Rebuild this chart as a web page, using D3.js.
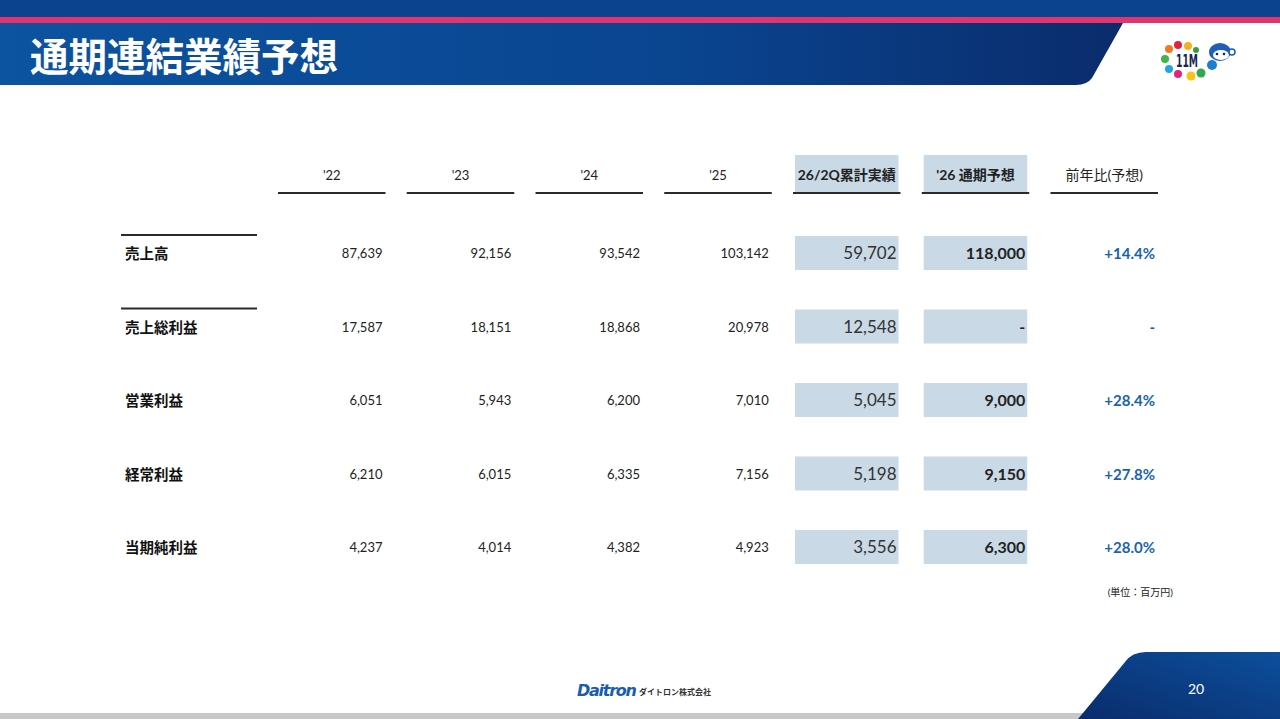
<!DOCTYPE html>
<html lang="ja">
<head>
<meta charset="utf-8">
<script src="https://cdn.jsdelivr.net/npm/d3@7"></script>
<style>
  html, body { margin: 0; padding: 0; background: #fff; }
  svg { display: block; font-family: Lato, "Noto Sans CJK JP", sans-serif; }
</style>
</head>
<body>
<svg id="slide" width="1280" height="719"></svg>
<script>
const title = "通期連結業績予想";
const columns = ["'22", "'23", "'24", "'25", "26/2Q累計実績", "'26 通期予想", "前年比(予想)"];
const metrics = ["売上高", "売上総利益", "営業利益", "経常利益", "当期純利益"];
const fy22 = [87639, 17587, 6051, 6210, 4237];
const fy23 = [92156, 18151, 5943, 6015, 4014];
const fy24 = [93542, 18868, 6200, 6335, 4382];
const fy25 = [103142, 20978, 7010, 7156, 4923];
const h1fy26 = [59702, 12548, 5045, 5198, 3556];
const fy26Forecast = [118000, null, 9000, 9150, 6300];
const yoy = ["+14.4%", "-", "+28.4%", "+27.8%", "+28.0%"];
const unitNote = "(単位：百万円)";
const pageNo = "20";

const svg = d3.select("#slide");
const fmt = d3.format(",");

// ---- header band ----
const defs = svg.append("defs");
const grad = defs.append("linearGradient").attr("id", "hdr").attr("x1", 0).attr("x2", 1);
grad.append("stop").attr("offset", "0%").attr("stop-color", "#0c53a0");
grad.append("stop").attr("offset", "60%").attr("stop-color", "#0a4590");
grad.append("stop").attr("offset", "100%").attr("stop-color", "#0a2c6c");
const grad2 = defs.append("linearGradient").attr("id", "ftr").attr("x1", 0).attr("x2", 1).attr("y1", 1).attr("y2", 0);
grad2.append("stop").attr("offset", "0%").attr("stop-color", "#0a2c6c");
grad2.append("stop").attr("offset", "100%").attr("stop-color", "#0c4f9c");

svg.append("rect").attr("x", 0).attr("y", 0).attr("width", 1280).attr("height", 17).attr("fill", "#0b438f");
svg.append("rect").attr("x", 0).attr("y", 17).attr("width", 1280).attr("height", 6).attr("fill", "#e2356f");
svg.append("path")
  .attr("d", "M0,23 H1123 L1092,78 Q1087,85 1076,85 H0 Z")
  .attr("fill", "url(#hdr)");
svg.append("text")
  .attr("x", 30).attr("y", 71)
  .attr("fill", "#fff")
  .attr("font-size", 38.5).attr("font-weight", 700)
  .attr("font-family", "'Noto Sans CJK JP', sans-serif")
  .text(title);

// ---- logo (top right) ----
const logo = svg.append("g");
const dots = [
  [1169, 49, 4, "#ef7a22"], [1178, 45, 4, "#e5203f"], [1188, 46, 4, "#f2b21b"],
  [1196, 50, 3, "#3c9a3c"], [1165, 59, 4, "#3db54a"], [1169, 69, 4, "#20a6df"],
  [1178, 74, 4, "#e2237f"], [1191, 76, 4.5, "#f7c31a"], [1201, 73, 4.5, "#2fa84f"],
  [1212, 65, 5, "#1d7fd0"]
];
logo.selectAll("circle.dot").data(dots).enter().append("circle")
  .attr("class", "dot")
  .attr("cx", d => d[0]).attr("cy", d => d[1]).attr("r", d => d[2]).attr("fill", d => d[3]);
logo.append("text").attr("x", 1187).attr("y", 67).attr("text-anchor", "middle")
  .attr("font-size", 18).attr("font-weight", 900).attr("fill", "#1b2550")
  .attr("font-family", "'DejaVu Sans Condensed', sans-serif")
  .attr("textLength", 22).attr("lengthAdjust", "spacingAndGlyphs")
  .text("11M");
logo.append("ellipse").attr("cx", 1220).attr("cy", 52).attr("rx", 11).attr("ry", 9).attr("fill", "#1d5fb8");
logo.append("ellipse").attr("cx", 1221).attr("cy", 55).attr("rx", 8).attr("ry", 5).attr("fill", "#fff");
logo.append("circle").attr("cx", 1217).attr("cy", 54).attr("r", 1.3).attr("fill", "#1b2550");
logo.append("circle").attr("cx", 1224).attr("cy", 54).attr("r", 1.3).attr("fill", "#1b2550");
logo.append("circle").attr("cx", 1232).attr("cy", 52).attr("r", 3).attr("fill", "#fff").attr("stroke", "#1d5fb8").attr("stroke-width", 1.5);

// ---- table scales ----
const x = d3.scaleBand().domain(columns).range([278, 1158]).paddingInner(0.165).paddingOuter(0);
const y = d3.scalePoint().domain(metrics).range([253, 547]);
const bw = x.bandwidth();
const shade = "#c9d9e6";
const ink = "#222";

// header shading for the two current-year columns
svg.selectAll("rect.hshade").data(columns.slice(4, 6)).enter().append("rect")
  .attr("class", "hshade")
  .attr("x", d => x(d) + 2).attr("y", 155)
  .attr("width", bw - 4).attr("height", 38)
  .attr("fill", shade);

svg.selectAll("line.hline").data(columns).enter().append("line")
  .attr("class", "hline")
  .attr("x1", d => x(d)).attr("x2", d => x(d) + bw)
  .attr("y1", 193).attr("y2", 193)
  .attr("stroke", "#2b2b2b").attr("stroke-width", 2);

svg.selectAll("text.htext").data(columns).enter().append("text")
  .attr("class", "htext")
  .attr("x", d => x(d) + bw / 2).attr("y", 180)
  .attr("text-anchor", "middle")
  .attr("font-size", (d, i) => i < 4 ? 13 : 14)
  .attr("font-weight", (d, i) => i === 4 || i === 5 ? 700 : 400)
  .attr("fill", ink)
  .text(d => d);

// row labels and separator lines
svg.selectAll("line.rline").data(metrics.slice(0, 2)).enter().append("line")
  .attr("class", "rline")
  .attr("x1", 121).attr("x2", 257)
  .attr("y1", d => y(d) - 18).attr("y2", d => y(d) - 18)
  .attr("stroke", "#2b2b2b").attr("stroke-width", 2);

svg.selectAll("text.rlabel").data(metrics).enter().append("text")
  .attr("class", "rlabel")
  .attr("x", 125).attr("y", d => y(d) + 6)
  .attr("font-size", 14.5).attr("font-weight", 700)
  .attr("font-family", "'Noto Sans CJK JP', sans-serif")
  .attr("fill", "#111")
  .text(d => d);

// shaded value cells
[4, 5].forEach(ci => {
  svg.selectAll("rect.vshade" + ci).data(metrics).enter().append("rect")
    .attr("x", x(columns[ci]) + 2).attr("y", d => y(d) - 17)
    .attr("width", bw - 4).attr("height", 34)
    .attr("fill", shade);
});

// historic values
const history = [fy22, fy23, fy24, fy25];
history.forEach((series, ci) => {
  svg.selectAll("text.v" + ci).data(series).enter().append("text")
    .attr("x", x(columns[ci]) + bw - 3)
    .attr("y", (d, i) => y(metrics[i]) + 5)
    .attr("text-anchor", "end")
    .attr("font-size", 13)
    .attr("fill", ink)
    .text(d => fmt(d));
});

svg.selectAll("text.vh1").data(h1fy26).enter().append("text")
  .attr("x", x(columns[4]) + bw - 4)
  .attr("y", (d, i) => y(metrics[i]) + 6)
  .attr("text-anchor", "end")
  .attr("font-size", 17)
  .attr("fill", "#333")
  .text(d => fmt(d));

svg.selectAll("text.vfc").data(fy26Forecast).enter().append("text")
  .attr("x", x(columns[5]) + bw - 4)
  .attr("y", (d, i) => y(metrics[i]) + 6)
  .attr("text-anchor", "end")
  .attr("font-size", 16).attr("font-weight", 700)
  .attr("fill", "#222")
  .text(d => d == null ? "-" : fmt(d));

svg.selectAll("text.vyoy").data(yoy).enter().append("text")
  .attr("x", x(columns[6]) + bw - 3)
  .attr("y", (d, i) => y(metrics[i]) + 6)
  .attr("text-anchor", "end")
  .attr("font-size", 15).attr("font-weight", 700)
  .attr("fill", "#1a62ae")
  .text(d => d);

svg.append("text")
  .attr("x", 1173).attr("y", 596)
  .attr("text-anchor", "end")
  .attr("font-size", 10)
  .attr("fill", "#222")
  .text(unitNote);

// ---- footer ----
svg.append("rect").attr("x", 0).attr("y", 713).attr("width", 1100).attr("height", 6).attr("fill", "#c8c8c8");
svg.append("path")
  .attr("d", "M1078,719 L1125,662 Q1132,652 1146,652 H1280 V719 Z")
  .attr("fill", "url(#ftr)");
svg.append("text")
  .attr("x", 1196).attr("y", 694)
  .attr("text-anchor", "middle")
  .attr("font-size", 14)
  .attr("fill", "#fff")
  .text(pageNo);

svg.append("text")
  .attr("x", 577).attr("y", 696)
  .attr("font-size", 16).attr("font-weight", 900).attr("font-style", "italic")
  .attr("fill", "#1a5cb0")
  .attr("font-family", "'DejaVu Sans', sans-serif")
  .attr("textLength", 60)
  .text("Daitron");
svg.append("text")
  .attr("x", 639).attr("y", 695)
  .attr("font-size", 8).attr("font-weight", 700)
  .attr("fill", "#333")
  .attr("font-family", "'Noto Sans CJK JP', sans-serif")
  .text("ダイトロン株式会社");
</script>
</body>
</html>
